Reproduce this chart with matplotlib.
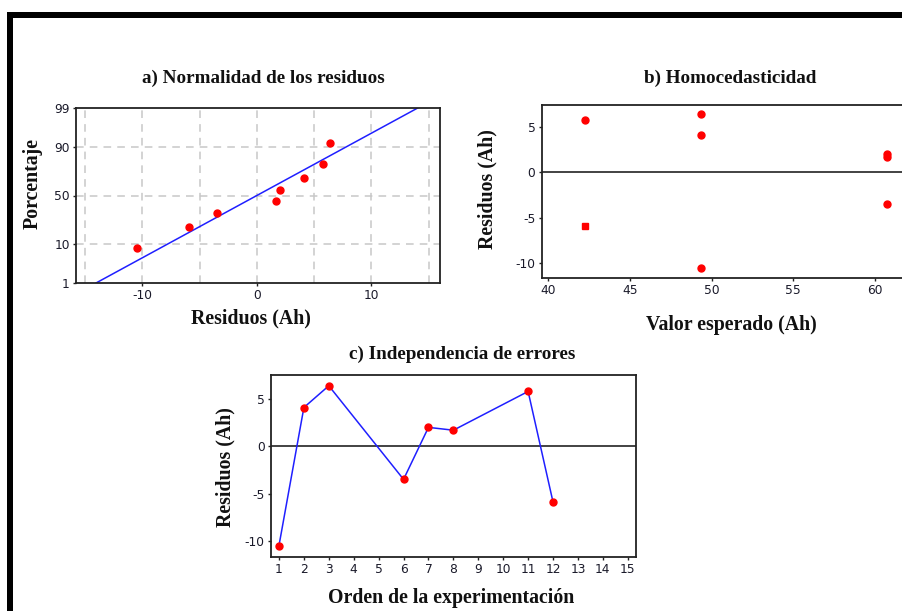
import numpy as np
import matplotlib
matplotlib.use("Agg")
import matplotlib.pyplot as plt
from matplotlib.patches import Rectangle
from statistics import NormalDist

plt.rcParams["axes.unicode_minus"] = False

# ---------------- data ----------------
orden = [1, 2, 3, 6, 7, 8, 11, 12]
residuos = [-10.5, 4.1, 6.4, -3.5, 2.0, 1.7, 5.8, -5.9]
valor_esperado = [49.35, 49.35, 49.35, 60.72, 60.72, 60.72, 42.25, 42.25]

# normal probability plot (sorted residuals and plotted percentages)
res_ordenados = [-10.5, -5.9, -3.5, 1.7, 2.0, 4.1, 5.8, 6.4]
porcentaje = [8.3, 20.2, 32.1, 44.0, 56.0, 67.9, 79.8, 91.7]
ajuste_media = 0.0
ajuste_desv = 6.04
pct_ticks = [1, 10, 50, 90, 99]

W, H = 902, 611
fig = plt.figure(figsize=(W / 100, H / 100), dpi=100)

serif = "Liberation Serif"
tick_font = "DejaVu Sans"
red = "#ff0000"
blue = "#1f1fff"
spine_c = "#222222"


def fx(px):
    return px / W


def fy(py):
    return 1 - py / H


def axes_px(l, t, r, b):
    return fig.add_axes([fx(l), fy(b), (r - l) / W, (b - t) / H])


def style(ax):
    for s in ax.spines.values():
        s.set_color(spine_c)
        s.set_linewidth(1.3)
    ax.tick_params(direction="out", length=2.5, width=1, colors=spine_c,
                   labelsize=8.8, pad=2)
    for lab in ax.get_xticklabels() + ax.get_yticklabels():
        lab.set_fontfamily(tick_font)
        lab.set_color("#1a1a2a")


nd = NormalDist()


def fwd(p):
    p = np.clip(np.asarray(p, dtype=float), 1e-6, 100 - 1e-6) / 100.0
    return np.array([nd.inv_cdf(v) for v in np.ravel(p)]).reshape(np.shape(p))


def inv(z):
    z = np.asarray(z, dtype=float)
    return np.array([nd.cdf(v) * 100 for v in np.ravel(z)]).reshape(np.shape(z))


# ---------------- a) ----------------
axa = axes_px(76, 108, 440, 283)
axa.set_yscale("function", functions=(fwd, inv))
axa.set_ylim(1, 99)
axa.set_xlim(-15.8, 16.0)
for gx in [-15, -10, -5, 0, 5, 10, 15]:
    axa.axvline(gx, color="#c8c8c8", lw=1.1, ls=(0, (5, 4)), zorder=0)
for gy in [10, 50, 90]:
    axa.axhline(gy, color="#c8c8c8", lw=1.1, ls=(0, (5, 4)), zorder=0)
pline = np.linspace(1, 99, 200)
zline = fwd(pline)
axa.plot(ajuste_media + ajuste_desv * zline, pline, color=blue, lw=1.1, zorder=2)
axa.plot(res_ordenados, porcentaje, "o", color=red, ms=5, zorder=3)
axa.set_xticks([-10, 0, 10])
axa.set_yticks(pct_ticks)
axa.set_yticklabels([str(t) for t in pct_ticks])
axa.yaxis.set_minor_locator(matplotlib.ticker.NullLocator())
style(axa)

# ---------------- b) ----------------
axb = axes_px(541.7, 105, 915.7, 277.7)
axb.set_xlim(39.6, 62.5)
axb.set_ylim(-11.62, 7.42)
axb.axhline(0, color=spine_c, lw=1.2, zorder=1)
mk = ["o"] * len(residuos)
mk[7] = "s"
for xv, yv, m in zip(valor_esperado, residuos, mk):
    axb.plot([xv], [yv], m, color=red, ms=5 if m == "o" else 4.5, zorder=3)
axb.set_xticks([40, 45, 50, 55, 60])
axb.set_yticks([-10, -5, 0, 5])
style(axb)

# ---------------- c) ----------------
axc = axes_px(271, 375, 636, 556.7)
axc.set_xlim(0.68, 15.33)
axc.set_ylim(-11.68, 7.54)
axc.axhline(0, color=spine_c, lw=1.2, zorder=1)
axc.plot(orden, residuos, "-", color=blue, lw=1.1, zorder=2)
axc.plot(orden, residuos, "o", color=red, ms=5, zorder=3)
axc.set_xticks(range(1, 16))
axc.set_yticks([-10, -5, 0, 5])
style(axc)

# ---------------- texts ----------------
tkw = dict(fontfamily=serif, fontweight="bold", color="#111111", ha="center", va="center")
fig.text(fx(263), fy(78), "a) Normalidad de los residuos", fontsize=13.8, **tkw)
fig.text(fx(730), fy(78), "b) Homocedasticidad", fontsize=13.8, **tkw)
fig.text(fx(462), fy(354), "c) Independencia de errores", fontsize=13.8, **tkw)

fig.text(fx(251), fy(318), "Residuos (Ah)", fontsize=14.3, **tkw)
fig.text(fx(731), fy(325), "Valor esperado (Ah)", fontsize=14.3, **tkw)
fig.text(fx(451), fy(598), "Orden de la experimentación", fontsize=14.3, **tkw)

fig.text(fx(33), fy(183), "Porcentaje", fontsize=14.3, rotation=90, **tkw)
fig.text(fx(487), fy(189), "Residuos (Ah)", fontsize=14.3, rotation=90, **tkw)
fig.text(fx(225), fy(467), "Residuos (Ah)", fontsize=14.3, rotation=90, **tkw)

# ---------------- frame ----------------
fig.add_artist(Rectangle((fx(7), fy(H + 5)), (13 - 7) / W, (H + 5 - 12) / H,
                         transform=fig.transFigure, color="black", lw=0))
fig.add_artist(Rectangle((fx(7), fy(18)), (W + 5 - 7) / W, 6 / H,
                         transform=fig.transFigure, color="black", lw=0))

fig.savefig("out.png", dpi=100)
